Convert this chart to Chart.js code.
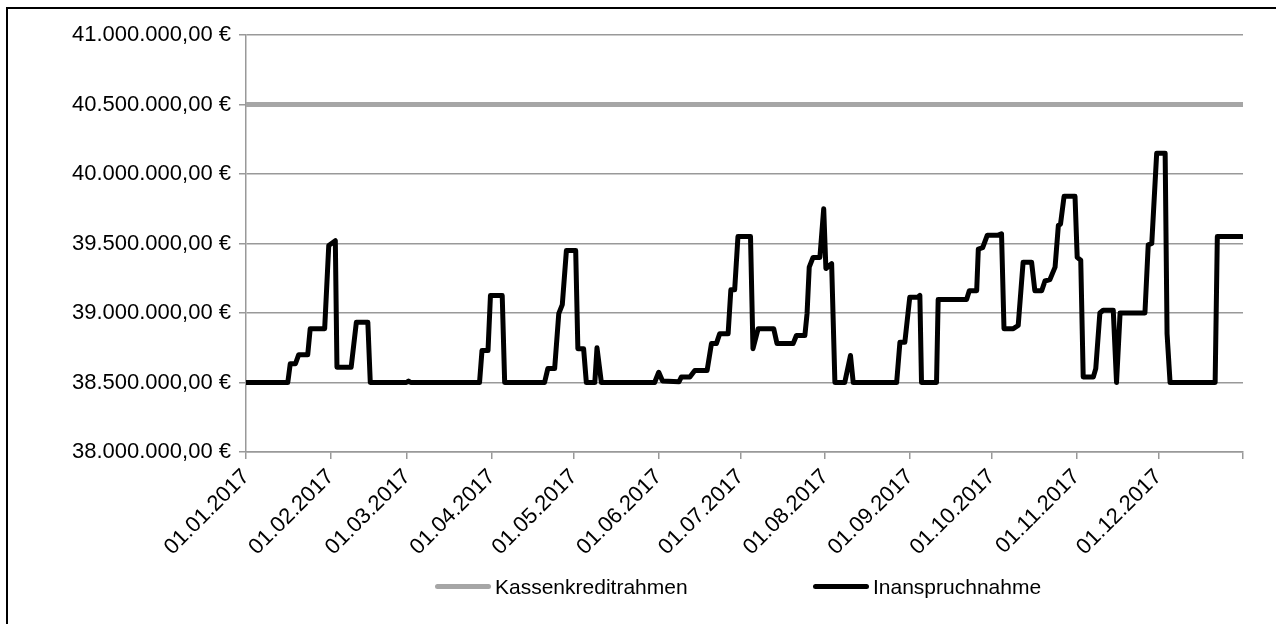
<!DOCTYPE html>
<html>
<head>
<meta charset="utf-8">
<script src="https://cdn.jsdelivr.net/npm/chart.js@4.4.1/dist/chart.umd.min.js"></script>
<style>
  html, body { margin: 0; padding: 0; background: #fff; overflow: hidden; }
  #wrap { position: relative; width: 1276px; height: 624px; }
  #frame { position: absolute; left: 6px; top: 7px; width: 1400px; height: 700px;
           border-left: 2px solid #000; border-top: 2px solid #000; pointer-events: none; }
  .legend-line { position: absolute; height: 5px; border-radius: 3px; }
  .legend-text { position: absolute; font: 21px "Liberation Sans", Arial, sans-serif; color: #000; line-height: 24px; }
</style>
</head>
<body>
<div id="wrap">
  <canvas id="chart" width="1276" height="624"></canvas>
  <div id="frame"></div>
  <div id="legend"></div>
</div>
<script>
// Inanspruchnahme: day of year (0 = 01.01.2017) and amount in EUR
const usageDays = [
  0, 15.3, 16.2, 18.1, 19.3, 22.6, 23.5, 28.8, 30.3, 32.7, 33.3, 38.5, 40.4, 44.6, 45.5,
  58.7, 59.5, 60.3, 85.5, 86.4, 88.6, 89.5, 93.8, 94.7,
  109.3, 110.5, 113, 114.5, 115.8, 117.3, 120.7, 121.5, 123.6, 124.6, 127.7, 128.5, 130.1,
  149.6, 151.1, 152.5, 158.5, 159.4, 162.5, 164.3, 168.8, 170.4, 172.2, 173.4, 176.5,
  177.5, 178.9, 180.1, 184.7, 185.6, 187.5, 193.2, 194.4, 200.3, 201.5, 204.6, 205.4,
  206.2, 207.6, 210.1, 211.5, 212.3, 214.4, 215.6, 219.2, 221.3, 222.3,
  238.2, 239.4, 241.2, 243.0, 246, 246.7, 247.3, 252.8, 253.4, 263.8, 264.8, 267.5,
  268.1, 269.7, 271.4, 275.4, 276.6, 277.5, 280.9, 282.7, 284.5, 287.6, 288.8, 291.3,
  292.5, 294.3, 296.2, 297.4, 298.2, 299.5, 303.5, 304.3, 305.6, 306.5, 310.2, 311.1,
  312.6, 313.8, 317.5, 318.7, 320, 329.1, 330.3, 331.6, 333.4, 336.5, 337.2, 338.3,
  354.8, 355.6, 364.6
];
const usageValues = [
  38500000, 38500000, 38635000, 38635000, 38700000, 38700000, 38887000, 38887000, 39486000, 39520000, 38610000, 38610000, 38934000, 38934000, 38500000,
  38500000, 38510000, 38500000, 38500000, 38730000, 38730000, 39126000, 39126000, 38500000,
  38500000, 38600000, 38600000, 38995000, 39060000, 39450000, 39450000, 38743000, 38743000, 38500000, 38500000, 38750000, 38500000,
  38500000, 38574000, 38510000, 38505000, 38540000, 38540000, 38586000, 38586000, 38780000, 38780000, 38850000, 38850000,
  39167000, 39167000, 39550000, 39550000, 38743000, 38887000, 38887000, 38780000, 38780000, 38838000, 38838000, 38995000,
  39330000, 39400000, 39400000, 39750000, 39320000, 39355000, 38500000, 38500000, 38694000, 38500000,
  38500000, 38790000, 38790000, 39114000, 39114000, 39126000, 38500000, 38500000, 39097000, 39097000, 39160000, 39160000,
  39460000, 39470000, 39560000, 39560000, 39570000, 38887000, 38887000, 38910000, 39366000, 39366000, 39160000, 39160000,
  39230000, 39240000, 39330000, 39630000, 39640000, 39840000, 39840000, 39400000, 39380000, 38540000, 38540000, 38600000,
  39000000, 39020000, 39020000, 38500000, 39000000, 39000000, 39490000, 39500000, 40150000, 40150000, 38850000, 38500000,
  38500000, 39550000, 39550000
];

// Kassenkreditrahmen: constant limit over the year
const limitDays = [0, 365];
const limitValues = [40500000, 40500000];

const seriesNames = ['Kassenkreditrahmen', 'Inanspruchnahme'];
const seriesColors = ['#a6a6a6', '#000000'];

// x axis ticks: month starts as day of year
const monthStarts = [0, 31, 59, 90, 120, 151, 181, 212, 243, 273, 304, 334, 365];
const monthLabels = ['01.01.2017', '01.02.2017', '01.03.2017', '01.04.2017', '01.05.2017', '01.06.2017',
  '01.07.2017', '01.08.2017', '01.09.2017', '01.10.2017', '01.11.2017', '01.12.2017', ''];

const FONT = '"Liberation Sans", Arial, sans-serif';
const GRID = '#999999';

function euro(v) {
  const whole = Math.round(v).toString().replace(/\B(?=(\d{3})+(?!\d))/g, '.');
  return whole + ',00 €';
}

function points(xs, ys) {
  return xs.map((x, i) => ({ x: x, y: ys[i] }));
}

const ctx = document.getElementById('chart').getContext('2d');

new Chart(ctx, {
  type: 'line',
  data: {
    datasets: [
      {
        label: seriesNames[0],
        data: points(limitDays, limitValues),
        borderColor: seriesColors[0],
        borderWidth: 5,
        pointRadius: 0,
        borderCapStyle: 'round',
        fill: false,
      },
      {
        label: seriesNames[1],
        data: points(usageDays, usageValues),
        borderColor: seriesColors[1],
        borderWidth: 5,
        pointRadius: 0,
        borderJoinStyle: 'round',
        borderCapStyle: 'round',
        fill: false,
      },
    ],
  },
  options: {
    responsive: false,
    animation: false,
    events: [],
    layout: { padding: { left: 0, right: 33, top: 35, bottom: 0 } },
    plugins: {
      legend: { display: false },
      tooltip: { enabled: false },
    },
    scales: {
      x: {
        type: 'linear',
        min: 0,
        max: 365,
        afterBuildTicks: (scale) => {
          scale.ticks = monthStarts.map((v) => ({ value: v }));
        },
        afterFit: (scale) => {
          scale.height = 172;
        },
        ticks: {
          autoSkip: false,
          minRotation: 45,
          maxRotation: 45,
          padding: 5,
          color: '#000',
          font: { family: FONT, size: 22 },
          callback: (value, index) => monthLabels[index] || '',
        },
        grid: {
          drawOnChartArea: false,
          drawTicks: true,
          tickLength: 7,
          color: GRID,
          lineWidth: 1.5,
        },
        border: { color: GRID, width: 1.5 },
      },
      y: {
        min: 38000000,
        max: 41000000,
        afterFit: (scale) => {
          scale.width = 246;
        },
        ticks: {
          stepSize: 500000,
          padding: 8,
          color: '#000',
          font: { family: FONT, size: 22 },
          callback: (value) => euro(value),
        },
        grid: {
          color: GRID,
          lineWidth: 1.5,
          drawTicks: true,
          tickLength: 7,
        },
        border: { color: GRID, width: 1.5 },
      },
    },
  },
});

// legend below the plot, laid out like the original
const legendSpots = [{ line: 435, text: 495 }, { line: 813, text: 873 }];
const legend = document.getElementById('legend');
seriesNames.forEach((name, i) => {
  const line = document.createElement('div');
  line.className = 'legend-line';
  line.style.left = legendSpots[i].line + 'px';
  line.style.top = '584px';
  line.style.width = '56px';
  line.style.background = seriesColors[i];
  legend.appendChild(line);

  const text = document.createElement('div');
  text.className = 'legend-text';
  text.style.left = legendSpots[i].text + 'px';
  text.style.top = '575px';
  text.textContent = name;
  legend.appendChild(text);
});
</script>
</body>
</html>
